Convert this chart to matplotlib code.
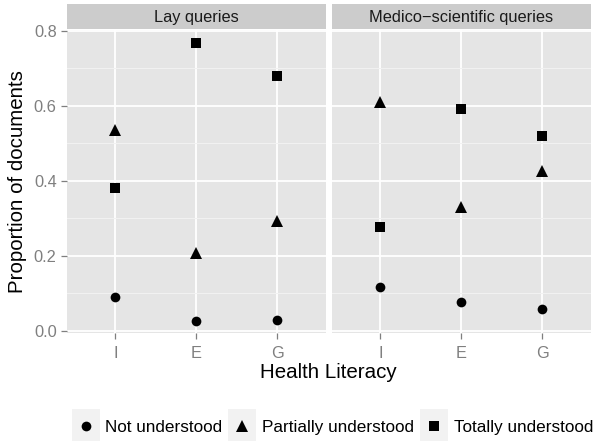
import matplotlib
matplotlib.use("Agg")
import matplotlib.pyplot as plt
from matplotlib.lines import Line2D
from matplotlib.patches import Rectangle
from matplotlib.legend_handler import HandlerBase

plt.rcParams.update({
    "font.family": ["Liberation Sans", "DejaVu Sans"],
    "axes.linewidth": 0,
})

# data
literacy = ["I", "E", "G"]
facets = ["Lay queries", "Medico\u2212scientific queries"]
series = ["Not understood", "Partially understood", "Totally understood"]
markers = ["o", "^", "s"]
msizes = [7.0, 8.8, 7.4]

lay_not = [0.089, 0.025, 0.029]
lay_partial = [0.535, 0.207, 0.292]
lay_total = [0.382, 0.767, 0.681]

med_not = [0.118, 0.077, 0.058]
med_partial = [0.611, 0.330, 0.426]
med_total = [0.278, 0.593, 0.520]

panel_values = [
    [lay_not, lay_partial, lay_total],
    [med_not, med_partial, med_total],
]

W, H = 593, 441
fig = plt.figure(figsize=(W / 100, H / 100), dpi=100)
fig.patch.set_facecolor("white")

GREY50 = "#7f7f7f"
panel_x = [(66.7, 325.9), (331.8, 591.0)]
panel_top, panel_bot = 29.8, 333.3
strip_top, strip_bot = 4.0, 28.7

axes = []
for i, (x0, x1) in enumerate(panel_x):
    ax = fig.add_axes([x0 / W, 1 - panel_bot / H, (x1 - x0) / W, (panel_bot - panel_top) / H])
    ax.set_facecolor("#e5e5e5")
    ax.set_xlim(-0.6, 2.6)
    ax.set_ylim(-0.0069, 0.8032)
    ax.set_yticks([0.0, 0.2, 0.4, 0.6, 0.8])
    ax.set_yticks([0.1, 0.3, 0.5, 0.7], minor=True)
    ax.set_xticks(range(len(literacy)))
    ax.set_xticklabels(literacy)
    ax.grid(True, which="major", color="white", linewidth=1.3)
    ax.grid(True, which="minor", axis="y", color="#f2f2f2", linewidth=0.7)
    ax.set_axisbelow(True)
    ax.tick_params(axis="both", which="major", length=4.25, width=0.9, color=GREY50,
                   labelcolor=GREY50, labelsize=11.8, pad=3)
    ax.tick_params(axis="x", which="major", pad=4.8)
    ax.tick_params(axis="both", which="minor", length=0)
    if i == 1:
        ax.tick_params(axis="y", which="major", left=False, labelleft=False)
    else:
        ax.set_yticklabels(["0.0", "0.2", "0.4", "0.6", "0.8"])
    for s in ax.spines.values():
        s.set_visible(False)

    for vals, m, ms in zip(panel_values[i], markers, msizes):
        ax.plot(range(len(literacy)), vals, linestyle="none", marker=m, ms=ms,
                color="black", markeredgewidth=0)

    sax = fig.add_axes([x0 / W, 1 - strip_bot / H, (x1 - x0) / W, (strip_bot - strip_top) / H])
    sax.set_facecolor("#cccccc")
    sax.set_xticks([])
    sax.set_yticks([])
    for s in sax.spines.values():
        s.set_visible(False)
    sax.text(0.5, 0.47, facets[i], ha="center", va="center", fontsize=11.8,
             color="#1a1a1a", transform=sax.transAxes)
    axes.append(ax)

fig.text(328.7 / W, 1 - 372.7 / H, "Health Literacy", ha="center", va="center", fontsize=14.8)
fig.text(18 / W, 1 - 181.5 / H, "Proportion of documents", ha="center", va="center",
         rotation=90, fontsize=14.8)


class KeyHandler(HandlerBase):
    def create_artists(self, legend, orig_handle, xdescent, ydescent, width, height,
                       fontsize, trans):
        pad = 6.5
        bg = Rectangle((-xdescent, -ydescent - pad), width, height + 2 * pad,
                       facecolor="#f2f2f2", edgecolor="none", transform=trans)
        mk = Line2D([width / 2 - xdescent], [height / 2 - ydescent],
                    marker=orig_handle.get_marker(), ms=orig_handle.get_markersize(),
                    color="black", markeredgewidth=0, linestyle="none", transform=trans)
        return [bg, mk]


handles = [Line2D([], [], marker=m, ms=ms, color="black", linestyle="none")
           for m, ms in zip(markers, msizes)]
fig.legend(handles, series, loc="center", bbox_to_anchor=(332.3 / W, 1 - 426.5 / H),
           ncol=3, frameon=False, fontsize=12.3, handlelength=1.64, handleheight=1.0,
           handletextpad=0.33, columnspacing=0.35, borderpad=0,
           handler_map={Line2D: KeyHandler()})

fig.savefig("out.png", dpi=100)
